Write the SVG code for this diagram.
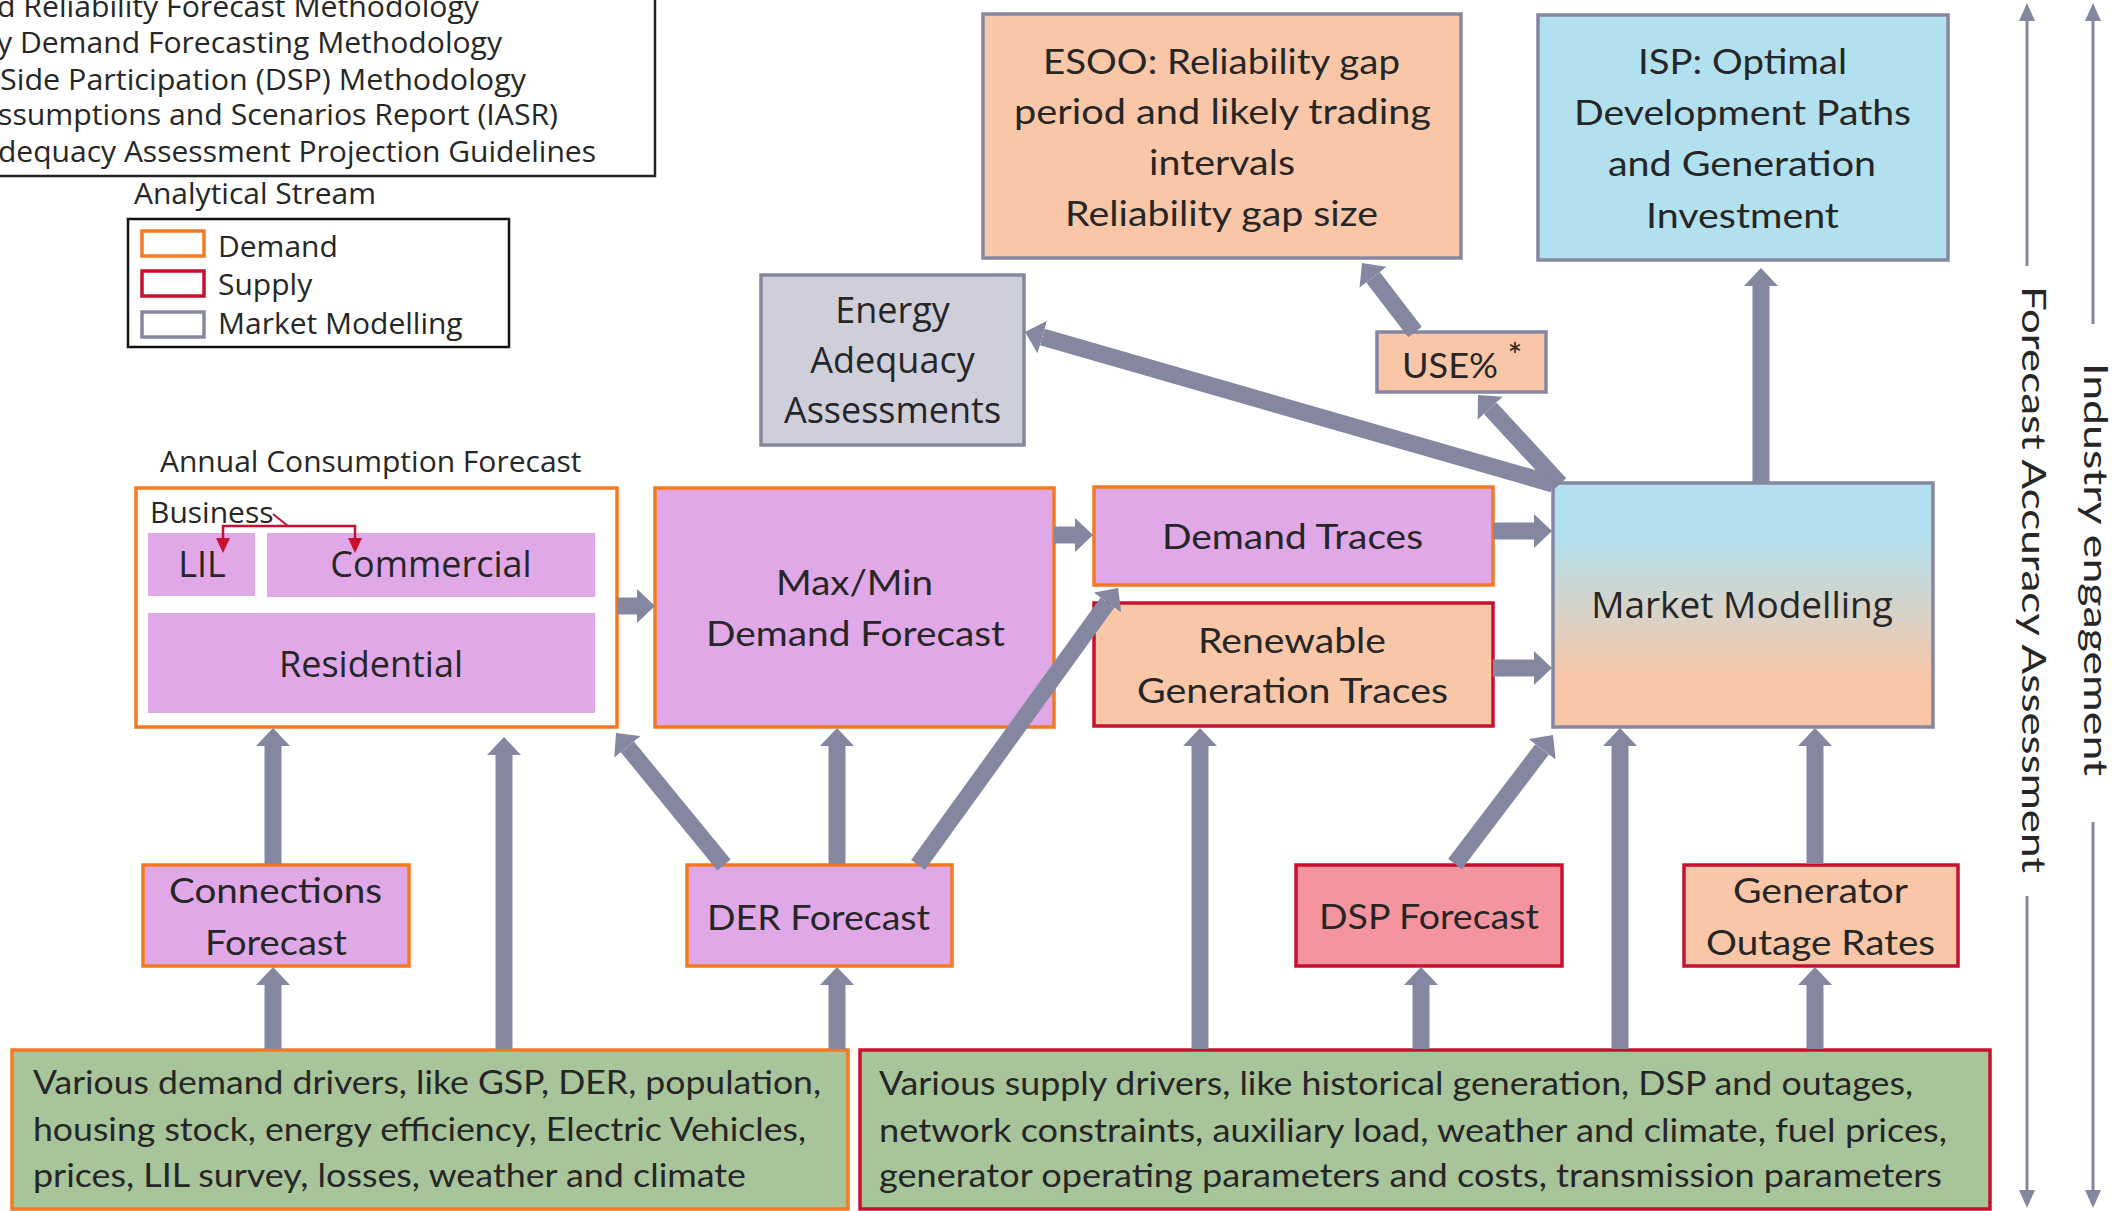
<svg xmlns="http://www.w3.org/2000/svg" width="2123" height="1211" viewBox="0 0 2123 1211">
<defs>
<style>
.os{font-family:"Open Sans","DejaVu Sans",sans-serif;fill:#262626}
.s30{font-size:30px}
.s36{font-size:36px}
.lt{font-family:Lato,"Liberation Sans",sans-serif;fill:#262626;font-size:35px}
.lg{font-family:Lato,"Liberation Sans",sans-serif;fill:#262626;font-size:32px}
.vt{font-family:Lato,"Liberation Sans",sans-serif;fill:#262626;font-size:33px}
.dem{stroke:#F47920;stroke-width:3.5}
.sup{stroke:#C8102E;stroke-width:3.5}
.mm{stroke:#8587A1;stroke-width:3.5}
.pur{fill:#E0A8E7}
.pch{fill:#F9C7A8}
.blu{fill:#B2E0EE}
.grn{fill:#A8C49A}
.con{stroke:#8587A1;stroke-width:17;fill:none;marker-end:url(#ah)}
.thin{stroke:#8587A1;stroke-width:3;fill:none}
</style>
<marker id="ah" markerUnits="userSpaceOnUse" markerWidth="18" markerHeight="34" viewBox="0 0 18 34" refX="0" refY="17" orient="auto">
<path d="M0,0 L18,17 L0,34 Z" fill="#8587A1"/>
</marker>
<marker id="th" markerUnits="userSpaceOnUse" markerWidth="18" markerHeight="16" viewBox="0 0 18 16" refX="0" refY="8" orient="auto">
<path d="M0,0 L18,8 L0,16 Z" fill="#8587A1"/>
</marker>
<linearGradient id="mmg" x1="0" y1="0" x2="0" y2="1">
<stop offset="0.22" stop-color="#B2E0EE"/>
<stop offset="0.8" stop-color="#F8C6A6"/>
</linearGradient>
</defs>
<rect x="0" y="0" width="2123" height="1211" fill="#FFFFFF"/>

<g id="documents">
<rect x="-10" y="-10" width="665" height="186" fill="#FFFFFF" stroke="#222222" stroke-width="2.5"/>
<text class="os s30" x="-3" y="17" textLength="482" lengthAdjust="spacingAndGlyphs">d Reliability Forecast Methodology</text>
<text class="os s30" x="-3" y="53" textLength="505" lengthAdjust="spacingAndGlyphs">y Demand Forecasting Methodology</text>
<text class="os s30" x="0" y="90" textLength="526" lengthAdjust="spacingAndGlyphs">Side Participation (DSP) Methodology</text>
<text class="os s30" x="-2" y="125" textLength="560" lengthAdjust="spacingAndGlyphs">ssumptions and Scenarios Report (IASR)</text>
<text class="os s30" x="-2" y="162" textLength="598" lengthAdjust="spacingAndGlyphs">dequacy Assessment Projection Guidelines</text>
</g>

<g id="legend">
<text class="os s30" x="134" y="204">Analytical Stream</text>
<rect x="128" y="219" width="381" height="128" fill="#FFFFFF" stroke="#111111" stroke-width="2.5"/>
<rect x="142" y="231" width="62" height="25" fill="#FFFFFF" class="dem"/>
<rect x="142" y="271" width="62" height="25" fill="#FFFFFF" class="sup"/>
<rect x="142" y="312" width="62" height="25" fill="#FFFFFF" class="mm"/>
<text class="os s30" x="218" y="257">Demand</text>
<text class="os s30" x="218" y="295">Supply</text>
<text class="os s30" x="218" y="334">Market Modelling</text>
</g>

<g id="annual-consumption">
<text class="os s30" x="160" y="472">Annual Consumption Forecast</text>
<rect x="136" y="488" width="481" height="239" fill="#FFFFFF" class="dem"/>
<text class="os s30" x="150" y="523">Business</text>
<rect x="148" y="533" width="107" height="63" class="pur"/>
<rect x="267" y="533" width="328" height="64" class="pur"/>
<rect x="148" y="613" width="447" height="100" class="pur"/>
<text class="os s36" x="202" y="577" text-anchor="middle">LIL</text>
<text class="os s36" x="431" y="577" text-anchor="middle">Commercial</text>
<text class="os s36" x="371" y="677" text-anchor="middle">Residential</text>
<polyline points="273,514 288,526" fill="none" stroke="#C8102E" stroke-width="2"/>
<polyline points="223,538 223,526 355,526 355,538" fill="none" stroke="#C8102E" stroke-width="2.5"/>
<polygon points="216,538 230,538 223,553" fill="#C8102E"/>
<polygon points="348,538 362,538 355,553" fill="#C8102E"/>
</g>

<g id="maxmin">
<rect x="655" y="488" width="399" height="239" class="pur dem"/>
<text class="lt" x="854.5" y="595" text-anchor="middle" textLength="157" lengthAdjust="spacingAndGlyphs">Max/Min</text>
<text class="lt" x="855.5" y="646" text-anchor="middle" textLength="299" lengthAdjust="spacingAndGlyphs">Demand Forecast</text>
</g>

<g id="demand-traces">
<rect x="1094" y="487" width="399" height="98" class="pur dem"/>
<text class="lt" x="1292.5" y="549" text-anchor="middle" textLength="261" lengthAdjust="spacingAndGlyphs">Demand Traces</text>
</g>

<g id="renewable-traces">
<rect x="1094" y="603" width="399" height="123" class="pch sup"/>
<text class="lt" x="1292" y="653" text-anchor="middle" textLength="188" lengthAdjust="spacingAndGlyphs">Renewable</text>
<text class="lt" x="1292.5" y="703" text-anchor="middle" textLength="311" lengthAdjust="spacingAndGlyphs">Generation Traces</text>
</g>

<g id="market-modelling">
<rect x="1553" y="483" width="380" height="244" fill="url(#mmg)" class="mm"/>
<text class="os" x="1742" y="618" text-anchor="middle" font-size="37">Market Modelling</text>
</g>

<g id="esoo">
<rect x="983" y="14" width="478" height="244" class="pch mm"/>
<text class="lt" x="1221.5" y="74" text-anchor="middle" textLength="357" lengthAdjust="spacingAndGlyphs">ESOO: Reliability gap</text>
<text class="lt" x="1222.5" y="124" text-anchor="middle" textLength="417" lengthAdjust="spacingAndGlyphs">period and likely trading</text>
<text class="lt" x="1222" y="175" text-anchor="middle" textLength="146" lengthAdjust="spacingAndGlyphs">intervals</text>
<text class="lt" x="1221.5" y="226" text-anchor="middle" textLength="313" lengthAdjust="spacingAndGlyphs">Reliability gap size</text>
</g>

<g id="isp">
<rect x="1538" y="15" width="410" height="245" class="blu mm"/>
<text class="lt" x="1742.5" y="74" text-anchor="middle" textLength="209" lengthAdjust="spacingAndGlyphs">ISP: Optimal</text>
<text class="lt" x="1742.5" y="125" text-anchor="middle" textLength="337" lengthAdjust="spacingAndGlyphs">Development Paths</text>
<text class="lt" x="1742" y="176" text-anchor="middle" textLength="268" lengthAdjust="spacingAndGlyphs">and Generation</text>
<text class="lt" x="1742.5" y="228" text-anchor="middle" textLength="193" lengthAdjust="spacingAndGlyphs">Investment</text>
</g>

<g id="energy-adequacy">
<rect x="761" y="275" width="263" height="170" fill="#CFCFDB" class="mm"/>
<text class="os s36" x="892.5" y="323" text-anchor="middle">Energy</text>
<text class="os s36" x="892.5" y="373" text-anchor="middle">Adequacy</text>
<text class="os s36" x="892.5" y="423" text-anchor="middle">Assessments</text>
</g>

<g id="use">
<rect x="1377" y="332" width="169" height="60" class="pch mm"/>
<text class="lt" x="1450" y="378" text-anchor="middle" textLength="96" lengthAdjust="spacingAndGlyphs">USE%</text>
<text class="lt" x="1515" y="368" text-anchor="middle" font-size="22">*</text>
</g>

<g id="connections-forecast">
<rect x="143" y="865" width="266" height="101" class="pur dem"/>
<text class="lt" x="275.5" y="903" text-anchor="middle" textLength="213" lengthAdjust="spacingAndGlyphs">Connections</text>
<text class="lt" x="276" y="955" text-anchor="middle" textLength="142" lengthAdjust="spacingAndGlyphs">Forecast</text>
</g>

<g id="der-forecast">
<rect x="687" y="865" width="265" height="101" class="pur dem"/>
<text class="lt" x="818.5" y="930" text-anchor="middle" textLength="223" lengthAdjust="spacingAndGlyphs">DER Forecast</text>
</g>

<g id="dsp-forecast">
<rect x="1296" y="865" width="266" height="101" fill="#F4949F" class="sup"/>
<text class="lt" x="1429" y="929" text-anchor="middle" textLength="220" lengthAdjust="spacingAndGlyphs">DSP Forecast</text>
</g>

<g id="generator-outage">
<rect x="1684" y="865" width="274" height="101" class="pch sup"/>
<text class="lt" x="1820.5" y="903" text-anchor="middle" textLength="175" lengthAdjust="spacingAndGlyphs">Generator</text>
<text class="lt" x="1820.5" y="955" text-anchor="middle" textLength="229" lengthAdjust="spacingAndGlyphs">Outage Rates</text>
</g>

<g id="demand-drivers">
<rect x="12" y="1050" width="836" height="159" class="grn dem"/>
<text class="lg" x="33" y="1094" textLength="788" lengthAdjust="spacingAndGlyphs">Various demand drivers, like GSP, DER, population,</text>
<text class="lg" x="33" y="1141" textLength="773" lengthAdjust="spacingAndGlyphs">housing stock, energy efficiency, Electric Vehicles,</text>
<text class="lg" x="33" y="1187" textLength="713" lengthAdjust="spacingAndGlyphs">prices, LIL survey, losses, weather and climate</text>
</g>

<g id="supply-drivers">
<rect x="860" y="1050" width="1130" height="159" class="grn sup"/>
<text class="lg" x="879" y="1095" textLength="1034" lengthAdjust="spacingAndGlyphs">Various supply drivers, like historical generation, DSP and outages,</text>
<text class="lg" x="879" y="1142" textLength="1068" lengthAdjust="spacingAndGlyphs">network constraints, auxiliary load, weather and climate, fuel prices,</text>
<text class="lg" x="879" y="1187" textLength="1063" lengthAdjust="spacingAndGlyphs">generator operating parameters and costs, transmission parameters</text>
</g>

<g id="forecast-accuracy">
<line class="thin" x1="2027" y1="266" x2="2027" y2="21" marker-end="url(#th)"/>
<line class="thin" x1="2027" y1="896" x2="2027" y2="1190" marker-end="url(#th)"/>
<text class="vt" transform="translate(2022,579.5) rotate(90)" text-anchor="middle" textLength="587" lengthAdjust="spacingAndGlyphs">Forecast Accuracy Assessment</text>
</g>

<g id="industry-engagement">
<line class="thin" x1="2093" y1="324" x2="2093" y2="21" marker-end="url(#th)"/>
<line class="thin" x1="2093" y1="822" x2="2093" y2="1190" marker-end="url(#th)"/>
<text class="vt" transform="translate(2084,569.5) rotate(90)" text-anchor="middle" textLength="413" lengthAdjust="spacingAndGlyphs">Industry engagement</text>
</g>

<g id="connectors">
<line class="con" x1="273" y1="864" x2="273" y2="746"/>
<line class="con" x1="504" y1="1049" x2="504" y2="755"/>
<line class="con" x1="273" y1="1049" x2="273" y2="985"/>
<line class="con" x1="837" y1="1049" x2="837" y2="985"/>
<line class="con" x1="837" y1="864" x2="837" y2="746"/>
<line class="con" x1="724" y1="865" x2="627.4" y2="746.9"/>
<line class="con" x1="918" y1="865" x2="1107.5" y2="602.6"/>
<line class="con" x1="617" y1="606" x2="637" y2="606"/>
<line class="con" x1="1054" y1="535" x2="1075" y2="535"/>
<line class="con" x1="1493" y1="531" x2="1534" y2="531"/>
<line class="con" x1="1493" y1="668" x2="1534" y2="668"/>
<line class="con" x1="1200" y1="1049" x2="1200" y2="746"/>
<line class="con" x1="1455" y1="864" x2="1542.1" y2="749.3"/>
<line class="con" x1="1620" y1="1049" x2="1620" y2="746"/>
<line class="con" x1="1421" y1="1049" x2="1421" y2="985"/>
<line class="con" x1="1815" y1="1049" x2="1815" y2="985"/>
<line class="con" x1="1815" y1="864" x2="1815" y2="746"/>
<line class="con" x1="1761" y1="483" x2="1761" y2="286"/>
<line class="con" x1="1560" y1="484" x2="1490.2" y2="408.2"/>
<line class="con" x1="1415" y1="332" x2="1373" y2="277.3"/>
<line class="con" x1="1553" y1="484" x2="1042.3" y2="337" stroke-width="18"/>
</g>
</svg>
